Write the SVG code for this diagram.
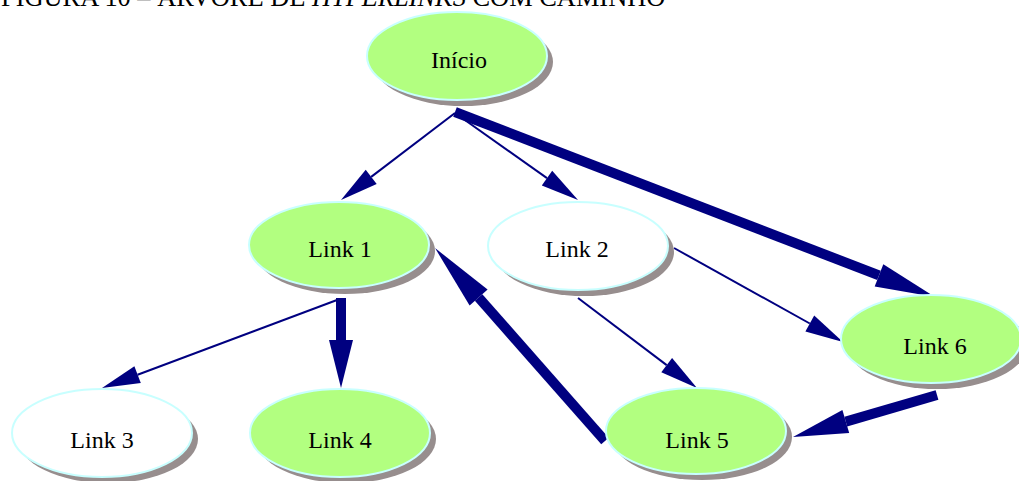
<svg xmlns="http://www.w3.org/2000/svg" width="1019" height="481" viewBox="0 0 1019 481">
<style>
.shadow{fill:#978e8e;stroke:none}
.green{fill:#b2ff80;stroke:#c8ffff;stroke-width:2}
.white{fill:#ffffff;stroke:#c8ffff;stroke-width:2}
.lbl{font-family:"Liberation Serif","Times New Roman",serif;font-size:24px;fill:#000;text-anchor:middle}
.thin{stroke:#000080;stroke-width:2;fill:none}
.thick{stroke:#000080;stroke-width:10;fill:none}
.head{fill:#000080;stroke:none}
.title{font-family:"Liberation Serif","Times New Roman",serif;font-size:26.4px;fill:#000}
</style>
<rect width="1019" height="481" fill="#ffffff"/>
<text class="title" x="1" y="6">FIGURA 10 – ÁRVORE DE <tspan font-style="italic">HYPERLINKS</tspan> COM CAMINHO</text>
<g id="connectors">
  <line class="thin" x1="455" y1="113" x2="371.2" y2="176.9"/>
  <polygon class="head" points="341,200 376.7,184.1 365.7,169.8"/>
  <line class="thin" x1="455" y1="113" x2="547" y2="178.1"/>
  <polygon class="head" points="578,200 541.8,185.4 552.2,170.8"/>
  <line class="thin" x1="674" y1="248" x2="809.8" y2="323.5"/>
  <polygon class="head" points="843,342 805.4,331.4 814.2,315.6"/>
  <line class="thin" x1="578" y1="298" x2="666.7" y2="365.1"/>
  <polygon class="head" points="697,388 661.3,372.3 672.1,357.9"/>
  <line class="thin" x1="337" y1="300" x2="137.6" y2="374.7"/>
  <polygon class="head" points="102,388 140.8,383.1 134.4,366.3"/>
  <line class="thick" x1="455" y1="112" x2="879" y2="275.4"/>
  <polygon class="head" points="935,297 874.7,286.6 883.3,264.2"/>
  <line class="thick" x1="341" y1="298" x2="341" y2="340"/>
  <polygon class="head" points="341,388 329,340 353,340"/>
  <line class="thick" x1="605" y1="441" x2="478.6" y2="297.5"/>
  <polygon class="head" points="435,248 487.6,289.6 469.6,305.4"/>
  <line class="thick" x1="937" y1="395" x2="845.8" y2="421.6"/>
  <polygon class="head" points="793,437 849.2,433.1 842.4,410.1"/>
</g>
<g id="inicio">
  <ellipse class="shadow" cx="463" cy="62" rx="90" ry="44"/>
  <ellipse class="green" cx="457" cy="56" rx="90" ry="44"/>
  <text class="lbl" x="459" y="68">Início</text>
</g>
<g id="link1">
  <ellipse class="shadow" cx="345" cy="251" rx="90" ry="43"/>
  <ellipse class="green" cx="339" cy="245" rx="90" ry="43"/>
  <text class="lbl" x="340" y="257">Link 1</text>
</g>
<g id="link2">
  <ellipse class="shadow" cx="584" cy="252" rx="90" ry="44"/>
  <ellipse class="white" cx="578" cy="246" rx="90" ry="44"/>
  <text class="lbl" x="577" y="257">Link 2</text>
</g>
<g id="link3">
  <ellipse class="shadow" cx="108" cy="439" rx="90" ry="44"/>
  <ellipse class="white" cx="102" cy="433" rx="90" ry="44"/>
  <text class="lbl" x="102" y="448">Link 3</text>
</g>
<g id="link4">
  <ellipse class="shadow" cx="346" cy="439" rx="90" ry="44"/>
  <ellipse class="green" cx="340" cy="433" rx="90" ry="44"/>
  <text class="lbl" x="340" y="448">Link 4</text>
</g>
<g id="link5">
  <ellipse class="shadow" cx="702" cy="437" rx="90" ry="43"/>
  <ellipse class="green" cx="696" cy="431" rx="90" ry="43"/>
  <text class="lbl" x="697" y="448">Link 5</text>
</g>
<g id="link6">
  <ellipse class="shadow" cx="937" cy="345" rx="90" ry="44"/>
  <ellipse class="green" cx="931" cy="339" rx="90" ry="44"/>
  <text class="lbl" x="935" y="354">Link 6</text>
</g>
</svg>
